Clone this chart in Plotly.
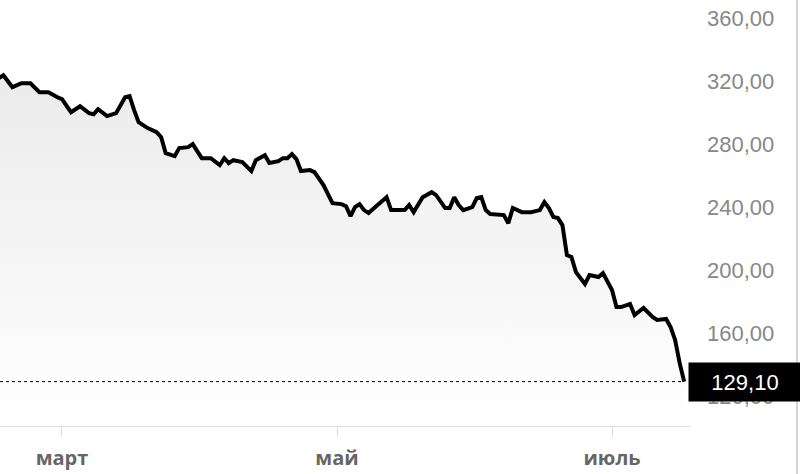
import plotly.graph_objects as go

dates = [
    "2024-02-16", "2024-02-17", "2024-02-19", "2024-02-21", "2024-02-23", "2024-02-25",
    "2024-02-27", "2024-02-28", "2024-02-29", "2024-03-01", "2024-03-03", "2024-03-05",
    "2024-03-07", "2024-03-08", "2024-03-09", "2024-03-11", "2024-03-13", "2024-03-15",
    "2024-03-16", "2024-03-17", "2024-03-18", "2024-03-20", "2024-03-21", "2024-03-22",
    "2024-03-23", "2024-03-24", "2024-03-26", "2024-03-27", "2024-03-29", "2024-03-30",
    "2024-04-01", "2024-04-03", "2024-04-05", "2024-04-06", "2024-04-07", "2024-04-08",
    "2024-04-10", "2024-04-12", "2024-04-13", "2024-04-15", "2024-04-16", "2024-04-18",
    "2024-04-19", "2024-04-20", "2024-04-21", "2024-04-22", "2024-04-23", "2024-04-25",
    "2024-04-26", "2024-04-28", "2024-04-30", "2024-05-02", "2024-05-03", "2024-05-04",
    "2024-05-05", "2024-05-06", "2024-05-07", "2024-05-08", "2024-05-10", "2024-05-12",
    "2024-05-13", "2024-05-16", "2024-05-17", "2024-05-18", "2024-05-20", "2024-05-22",
    "2024-05-23", "2024-05-25", "2024-05-26", "2024-05-27", "2024-05-28", "2024-05-29",
    "2024-05-31", "2024-06-01", "2024-06-02", "2024-06-03", "2024-06-04", "2024-06-07",
    "2024-06-08", "2024-06-09", "2024-06-11", "2024-06-13", "2024-06-15", "2024-06-16",
    "2024-06-17", "2024-06-18", "2024-06-19", "2024-06-20", "2024-06-21", "2024-06-22",
    "2024-06-23", "2024-06-25", "2024-06-26", "2024-06-28", "2024-06-29", "2024-07-01",
    "2024-07-02", "2024-07-03", "2024-07-05", "2024-07-06", "2024-07-08", "2024-07-10",
    "2024-07-11", "2024-07-13", "2024-07-14", "2024-07-15", "2024-07-16", "2024-07-17",
]

prices = [
    321.9, 323.8, 316.2, 318.7, 318.7, 313.0,
    313.0, 311.1, 309.8, 308.6, 300.3, 304.1,
    299.7, 299.0, 302.2, 297.8, 299.7, 309.8,
    310.5, 301.6, 294.0, 290.2, 288.9, 287.6,
    284.4, 274.3, 272.4, 277.5, 278.1, 280.0,
    271.1, 271.1, 266.7, 271.1, 267.9, 269.8,
    268.6, 262.9, 269.8, 273.0, 268.0, 269.2,
    271.1, 271.1, 273.7, 270.5, 262.9, 263.5,
    262.2, 254.0, 242.5, 241.9, 240.6, 234.3,
    240.0, 241.9, 238.1, 236.2, 241.3, 246.3,
    238.1, 238.1, 241.3, 236.8, 246.3, 249.5,
    247.6, 239.4, 239.4, 246.3, 241.3, 238.1,
    240.0, 245.7, 246.3, 238.1, 235.6, 234.9,
    229.8, 239.4, 236.8, 236.8, 238.1, 243.2,
    239.4, 233.7, 233.0, 228.6, 209.5, 208.3,
    198.7, 191.1, 196.8, 195.6, 198.1, 187.3,
    176.5, 176.5, 178.4, 171.4, 175.9, 170.2,
    168.3, 168.9, 163.8, 155.6, 141.0, 129.1,
]

x_tick_vals = ["2024-03-01", "2024-05-01", "2024-07-01"]
x_tick_text = ["март", "май", "июль"]
y_tick_vals = [120, 160, 200, 240, 280, 320, 360]

x_range = ["2024-02-16 06:00", "2024-07-18 07:12"]
y_range = [100.9, 371.6]

last_price = prices[-1]
last_label = f"{last_price:.2f}".replace(".", ",")

num_font = "Liberation Sans, Arial, sans-serif"

fig = go.Figure()

fig.add_trace(go.Scatter(
    x=dates, y=prices, mode="lines",
    line=dict(color="#000000", width=4, shape="linear"),
    fill="tozeroy",
    fillgradient=dict(type="vertical",
                      colorscale=[[0, "#ffffff"], [1, "#ebebeb"]],
                      start=y_range[0], stop=max(prices)),
    hoverinfo="skip",
))

fig.add_shape(type="line", xref="paper", yref="y",
              x0=0, x1=0.99, y0=last_price, y1=last_price,
              line=dict(color="#000000", width=1, dash="3px,3px"))

fig.add_shape(type="line", xref="paper", yref="paper",
              x0=1.155, x1=1.155, y0=-0.2, y1=1.2,
              line=dict(color="#c8c8c8", width=1.5))

fig.add_annotation(xref="paper", yref="y", x=0.9971, y=last_price,
                   xanchor="left", yanchor="middle",
                   text=last_label, showarrow=False,
                   width=106, height=32, borderpad=3,
                   bgcolor="#000000", align="center",
                   font=dict(family=num_font, size=22, color="#ffffff"))

fig.update_layout(
    width=800, height=474,
    margin=dict(l=0, r=110, t=0, b=48),
    paper_bgcolor="#ffffff", plot_bgcolor="#ffffff",
    separators=", ",
    showlegend=False,
    xaxis=dict(
        range=x_range, type="date",
        tickvals=x_tick_vals, ticktext=x_tick_text,
        showgrid=False, zeroline=False,
        showline=True, linecolor="#dddddd", linewidth=1,
        ticks="outside", ticklen=10, tickcolor="#dddddd", tickwidth=1,
        ticklabelstandoff=4,
        tickfont=dict(family="Open Sans, sans-serif", size=20,
                      color="#666666", weight=700),
    ),
    yaxis=dict(
        range=y_range, side="right",
        tickvals=y_tick_vals, tickformat=".2f",
        showgrid=False, zeroline=False, showline=False,
        ticks="", ticklabelstandoff=16,
        tickfont=dict(family=num_font, size=22, color="#888888"),
    ),
)

fig.write_html("out.html", config={"displayModeBar": False},
               post_script="document.body.style.margin='0px';")
